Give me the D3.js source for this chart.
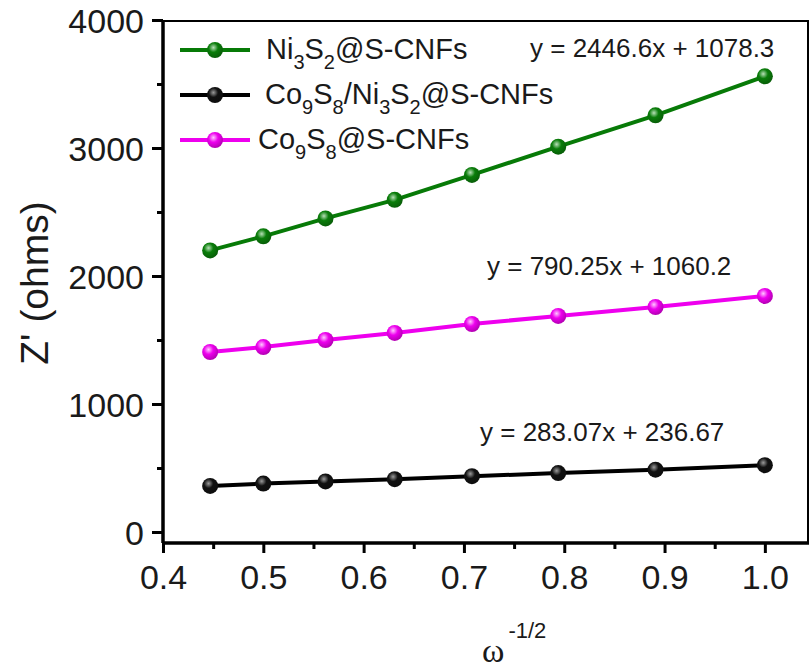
<!DOCTYPE html>
<html>
<head>
<meta charset="utf-8">
<script src="https://cdn.jsdelivr.net/npm/d3@7"></script>
<style>
  body { margin: 0; background: #fff; }
  text { font-family: "Liberation Sans", Arial, sans-serif; }
</style>
</head>
<body>
<div id="chart"></div>
<script>
// data
const xValues = [0.447, 0.5, 0.562, 0.631, 0.708, 0.794, 0.891, 1.0]
const ni3s2 = [2200, 2310, 2450, 2595, 2790, 3010, 3255, 3560]
const co9s8 = [1406, 1445, 1500, 1555, 1625, 1688, 1758, 1844]
const co9s8ni3s2 = [360, 378, 395, 413, 436, 460, 487, 522]
const xTicks = [0.4, 0.5, 0.6, 0.7, 0.8, 0.9, 1.0]
const yTicks = [0, 1000, 2000, 3000, 4000]
const fits = ["y = 2446.6x + 1078.3", "y = 790.25x + 1060.2", "y = 283.07x + 236.67"]

const width = 812
const height = 668
const margin = {top: 20, right: 3, bottom: 125, left: 163}

const svg = d3.select("#chart").append("svg")
    .attr("width", width)
    .attr("height", height)

const x = d3.scaleLinear()
    .domain([0.4, 1.044])
    .range([margin.left, width - margin.right])

const y = d3.scaleLinear()
    .domain([-86, 4000])
    .range([height - margin.bottom, margin.top])

// highlighted ball markers
const defs = svg.append("defs")
function ball(id, base, light) {
    const g = defs.append("radialGradient").attr("id", id)
        .attr("cx", "40%").attr("cy", "35%").attr("r", "65%")
    g.append("stop").attr("offset", "0%").attr("stop-color", light)
    g.append("stop").attr("offset", "45%").attr("stop-color", base)
    g.append("stop").attr("offset", "100%").attr("stop-color", d3.color(base).darker(0.8))
}
ball("gGreen", "#0a7d0a", "#b8e0b8")
ball("gBlack", "#111111", "#9a9a9a")
ball("gPink", "#ee00ee", "#ffc8ff")

const series = [
    {name: "ni", vals: ni3s2, color: "#077a07", grad: "gGreen"},
    {name: "co", vals: co9s8, color: "#ee00ee", grad: "gPink"},
    {name: "coni", vals: co9s8ni3s2, color: "#000000", grad: "gBlack"}
]

// frame (top and right)
svg.append("line").attr("x1", x.range()[0]).attr("x2", x.range()[1])
    .attr("y1", y.range()[1] + 1).attr("y2", y.range()[1] + 1)
    .attr("stroke", "#000").attr("stroke-width", 2)
svg.append("line").attr("x1", x.range()[1] - 1).attr("x2", x.range()[1] - 1)
    .attr("y1", y.range()[1]).attr("y2", y.range()[0])
    .attr("stroke", "#000").attr("stroke-width", 2)

// axes
const xAxis = svg.append("g").attr("transform", `translate(0,${y.range()[0]})`)
    .call(d3.axisBottom(x).tickValues(xTicks).tickFormat(d3.format(".1f")).tickSize(10).tickPadding(12))
const xMinor = svg.append("g").attr("transform", `translate(0,${y.range()[0]})`)
    .call(d3.axisBottom(x).tickValues([0.45, 0.55, 0.65, 0.75, 0.85, 0.95]).tickFormat("").tickSize(6))
const yAxis = svg.append("g").attr("transform", `translate(${x.range()[0]},0)`)
    .call(d3.axisLeft(y).tickValues(yTicks).tickFormat(d3.format("d")).tickSize(11).tickPadding(8))
const yMinor = svg.append("g").attr("transform", `translate(${x.range()[0]},0)`)
    .call(d3.axisLeft(y).tickValues([500, 1500, 2500, 3500]).tickFormat("").tickSize(6))

for (const ax of [xAxis, xMinor, yAxis, yMinor]) {
    ax.select(".domain").attr("stroke-width", 3.5)
    ax.selectAll(".tick line").attr("stroke-width", 3)
    ax.selectAll("text").attr("font-size", 34).attr("fill", "#1a1a1a")
        .style("font-family", "Liberation Sans, Arial, sans-serif")
}
yAxis.selectAll("text").attr("dy", "0.36em")
xMinor.select(".domain").remove()
yMinor.select(".domain").remove()
yAxis.select(".domain").attr("d", `M0,${y.range()[1]}V${y.range()[0]}`)
xAxis.select(".domain").attr("d", `M${x.range()[0]},0H${x.range()[1]}`)

// lines + markers
const line = d3.line().x((d, i) => x(xValues[i])).y(d => y(d))
series.forEach(s => {
    svg.append("path").datum(s.vals)
        .attr("d", line).attr("fill", "none")
        .attr("stroke", s.color).attr("stroke-width", 4)
    svg.selectAll(".pt-" + s.name).data(s.vals).enter().append("circle")
        .attr("cx", (d, i) => x(xValues[i])).attr("cy", d => y(d))
        .attr("r", 8).attr("fill", `url(#${s.grad})`)
})

// legend
const legend = [
    {color: "#077a07", grad: "gGreen", parts: [["Ni"], ["3", "sub"], ["S"], ["2", "sub"], ["@S-CNFs"]], ly: 50, tx: 266},
    {color: "#000000", grad: "gBlack", parts: [["Co"], ["9", "sub"], ["S"], ["8", "sub"], ["/Ni"], ["3", "sub"], ["S"], ["2", "sub"], ["@S-CNFs"]], ly: 95, tx: 265},
    {color: "#ee00ee", grad: "gPink", parts: [["Co"], ["9", "sub"], ["S"], ["8", "sub"], ["@S-CNFs"]], ly: 140, tx: 258}
]
legend.forEach(l => {
    svg.append("line").attr("x1", 180).attr("x2", 250).attr("y1", l.ly).attr("y2", l.ly)
        .attr("stroke", l.color).attr("stroke-width", 4)
    svg.append("circle").attr("cx", 215).attr("cy", l.ly).attr("r", 8)
        .attr("fill", `url(#${l.grad})`)
    const t = svg.append("text").attr("x", l.tx).attr("y", l.ly + 9)
        .attr("font-size", 29).attr("fill", "#1a1a1a")
    l.parts.forEach(p => {
        const ts = t.append("tspan").text(p[0])
        if (p[1] === "sub") ts.attr("font-size", 20).attr("dy", 10)
        else ts.attr("dy", p === l.parts[0] ? 0 : -10)
    })
})

// fit equations
const fitPos = [[530, 57], [487, 275], [480, 441]]
fits.forEach((f, i) => {
    svg.append("text").attr("x", fitPos[i][0]).attr("y", fitPos[i][1])
        .attr("font-size", 26).attr("fill", "#1a1a1a")
        .text(f)
})

// axis titles
svg.append("text")
    .attr("transform", "translate(48,283) rotate(-90)")
    .attr("text-anchor", "middle").attr("font-size", 39).attr("fill", "#1a1a1a")
    .text("Z' (ohms)")
const xt = svg.append("text").attr("x", 482).attr("y", 662)
    .attr("fill", "#1a1a1a")
xt.append("tspan").attr("font-size", 34).style("font-family", "Liberation Serif, serif").text("ω")
xt.append("tspan").attr("font-size", 22).attr("dx", 4).attr("dy", -24).text("-1/2")
</script>
</body>
</html>
